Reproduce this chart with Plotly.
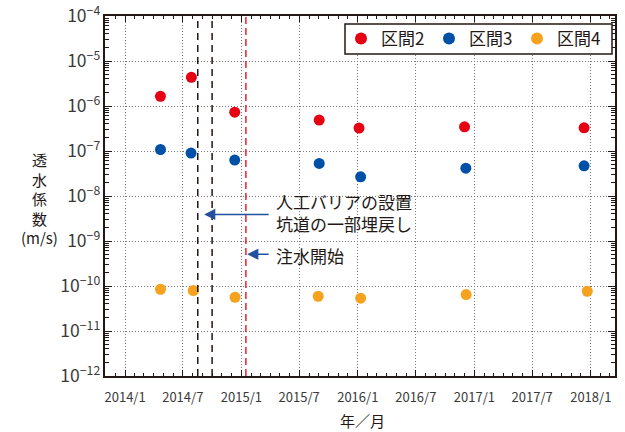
import math
import plotly.graph_objects as go

FONT = "Noto Sans CJK JP"

# ---- data ----
dates_2 = ["2014-04-22", "2014-07-28", "2014-12-11", "2015-09-02", "2016-01-05", "2016-12-01", "2017-12-11"]
k_2 = [1.64e-6, 4.33e-6, 7.3e-7, 4.86e-7, 3.23e-7, 3.45e-7, 3.28e-7]

dates_3 = ["2014-04-22", "2014-07-27", "2014-12-11", "2015-09-02", "2016-01-10", "2016-12-05", "2017-12-11"]
k_3 = [1.08e-7, 8.97e-8, 6.27e-8, 5.3e-8, 2.67e-8, 4.16e-8, 4.68e-8]

dates_4 = ["2014-04-22", "2014-08-03", "2014-12-12", "2015-08-30", "2016-01-10", "2016-12-06", "2017-12-21"]
k_4 = [8.47e-11, 7.92e-11, 5.62e-11, 5.92e-11, 5.35e-11, 6.46e-11, 7.65e-11]

series_names = ["区間2", "区間3", "区間4"]
series_colors = ["#E60012", "#0050A8", "#F5A31E"]

barrier_dates = ["2014-08-17", "2014-10-01"]   # 人工バリアの設置 / 坑道の一部埋戻し
injection_date = "2015-01-15"                   # 注水開始

arrow1_tip = ("2014-09-06", 10 ** -8.41)
arrow2_tip = ("2015-01-19", 10 ** -9.294)

x_range = ["2013-10-30", "2018-03-18"]
y_range_exp = [-12, -4]

# plot-area geometry (pixels)
L, R, T, B = 105, 10, 16, 56
W, H = 625, 432
PW, PH = W - L - R, H - T - B


def px(xp):
    return (xp - L) / PW


def py(yp):
    return (H - B - yp) / PH


fig = go.Figure()
for d, v, n, c in zip([dates_2, dates_3, dates_4], [k_2, k_3, k_4], series_names, series_colors):
    fig.add_trace(go.Scatter(x=d, y=v, mode="markers", name=n,
                             marker=dict(color=c, size=11, line=dict(width=0))))

shapes = []
for d in barrier_dates:
    shapes.append(dict(type="line", xref="x", yref="paper", x0=d, x1=d, y0=0, y1=1,
                       line=dict(color="#231815", width=1.5, dash="7px,5px")))
shapes.append(dict(type="line", xref="x", yref="paper", x0=injection_date, x1=injection_date, y0=0, y1=1,
                   line=dict(color="#F0202A", width=1.5, dash="7px,4px")))
# legend frame (opaque box)
shapes.append(dict(type="rect", xref="paper", yref="paper", x0=px(345), x1=px(612),
                   y0=py(54), y1=py(24), fillcolor="white", layer="above",
                   line=dict(color="#231815", width=1.5)))

arrow_color = "#2350A0"
txt_font = dict(family=FONT, size=17, color="#231815")
annotations = [
    dict(x=arrow1_tip[0], y=math.log10(arrow1_tip[1]), xref="x", yref="y",
         text="", showarrow=True, ax=66, ay=0, arrowhead=2, arrowsize=1.4, arrowwidth=1.6,
         arrowcolor=arrow_color),
    dict(x=arrow2_tip[0], y=math.log10(arrow2_tip[1]), xref="x", yref="y",
         text="", showarrow=True, ax=23, ay=0, arrowhead=2, arrowsize=1.4, arrowwidth=1.6,
         arrowcolor=arrow_color),
    dict(x=px(274), y=py(212.5), xref="paper", yref="paper", xanchor="left", yanchor="middle",
         text="人工バリアの設置<br>坑道の一部埋戻し", showarrow=False, align="left", font=txt_font),
    dict(x=px(274), y=py(255.5), xref="paper", yref="paper", xanchor="left", yanchor="middle",
         text="注水開始", showarrow=False, align="left", font=txt_font),
    dict(x=px(39), y=py(198.5), xref="paper", yref="paper", xanchor="center", yanchor="middle",
         showarrow=False, text="透<br>水<br>係<br>数<br>(m/s)", align="center",
         font=dict(family=FONT, size=15, color="#231815")),
    dict(x=px(362), y=py(420), xref="paper", yref="paper", xanchor="center", yanchor="middle",
         showarrow=False, text="年／月", font=dict(family=FONT, size=15, color="#231815")),
]

axis_common = dict(showline=True, linecolor="#231815", linewidth=2, mirror="allticks",
                   ticks="inside", tickcolor="#231815", tickwidth=1, automargin=False,
                   showgrid=True, gridcolor="#7a7a7a", griddash="1px,2px", gridwidth=1,
                   zeroline=False)

fig.update_layout(
    width=W, height=H,
    margin=dict(l=L, r=R, t=T, b=B),
    paper_bgcolor="white", plot_bgcolor="white",
    font=dict(family=FONT, color="#231815"),
    shapes=shapes, annotations=annotations,
    showlegend=True,
    legend=dict(orientation="h", x=px(341), xanchor="left", y=py(39), yanchor="middle",
                bgcolor="rgba(0,0,0,0)", borderwidth=0,
                font=dict(family=FONT, size=17, color="#231815"),
                itemsizing="constant", entrywidth=43),
    xaxis=dict(type="date", range=x_range, dtick="M6", tick0="2014-01-01",
               tickformat="%Y/%-m", ticklen=6, ticklabelstandoff=8,
               tickfont=dict(family=FONT, size=13, color="#3a3a3a"),
               minor=dict(dtick="M1", ticks="inside", ticklen=3, tickcolor="#231815", showgrid=False),
               **axis_common),
    yaxis=dict(type="log", range=y_range_exp, dtick=1, exponentformat="power", ticklen=7,
               tickfont=dict(family=FONT, size=14, color="#3a3a3a"),
               minor=dict(dtick="D1", ticks="inside", ticklen=4, tickcolor="#231815", showgrid=False),
               **axis_common),
)

fig.write_html("out.html", config={"displayModeBar": False},
               post_script="document.body.style.margin='0';document.body.style.overflow='hidden';")
